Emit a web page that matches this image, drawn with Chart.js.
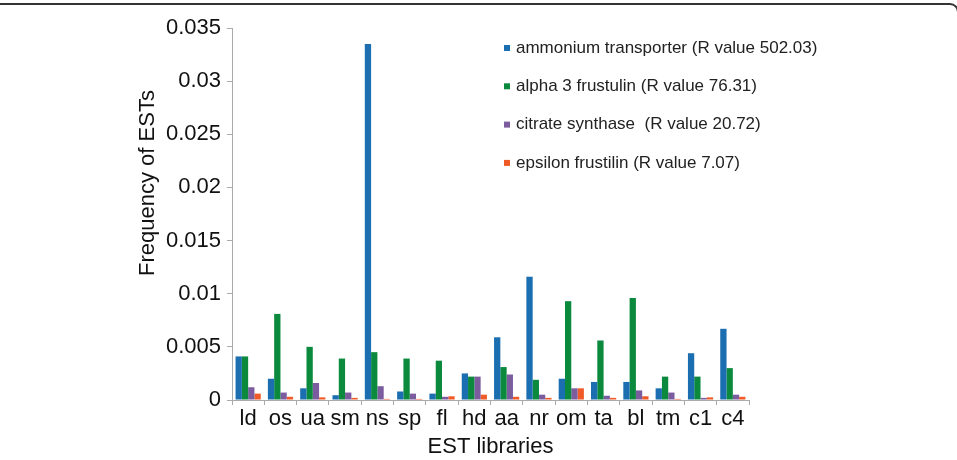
<!DOCTYPE html>
<html lang="en">
<head>
    <meta charset="UTF-8">
    <title>Frequency of ESTs</title>
    <style>
        html, body { margin: 0; padding: 0; background: #fff; }
        #wrap { position: relative; width: 957px; height: 460px; overflow: hidden; }
        #frame {
            position: absolute; top: 3px; left: -20px; width: 979px; height: 520px;
            border: 2px solid #333; border-radius: 9px; box-sizing: border-box;
        }
        #chart { position: absolute; left: 0; top: 0; }
    </style>
</head>
<body>
<div id="wrap">
    <div id="frame"></div>
    <canvas id="chart" width="957" height="460"></canvas>
</div>
<script src="https://cdn.jsdelivr.net/npm/chart.js"></script>
<script>
    // EST libraries (x categories)
    const libraries = ["ld", "os", "ua", "sm", "ns", "sp", "fl", "hd", "aa", "nr", "om", "ta", "bl", "tm", "c1", "c4"];

    // frequency of ESTs per library
    const ammonium = [0.0041, 0.0020, 0.0011, 0.00045, 0.0335, 0.0008, 0.0006, 0.0025, 0.0059, 0.0116, 0.0020, 0.0017, 0.0017, 0.0011, 0.0044, 0.0067];
    const alpha3 = [0.0041, 0.0081, 0.0050, 0.0039, 0.0045, 0.0039, 0.0037, 0.0022, 0.0031, 0.0019, 0.0093, 0.0056, 0.0096, 0.0022, 0.0022, 0.0030];
    const citrate = [0.0012, 0.0007, 0.0016, 0.0007, 0.0013, 0.0006, 0.0003, 0.0022, 0.0024, 0.0005, 0.0011, 0.0004, 0.0009, 0.0007, 0.0002, 0.0005];
    const epsilon = [0.0006, 0.0003, 0.00025, 0.0002, 0.0001, 0.0001, 0.00035, 0.0005, 0.0003, 0.0002, 0.0011, 0.0002, 0.00035, 0.0001, 0.00025, 0.0003];

    const seriesNames = [
        "ammonium transporter (R value 502.03)",
        "alpha 3 frustulin (R value 76.31)",
        "citrate synthase  (R value 20.72)",
        "epsilon frustilin (R value 7.07)"
    ];
    const yTicks = [0, 0.005, 0.01, 0.015, 0.02, 0.025, 0.03, 0.035];
    const yTitle = "Frequency of ESTs";

    const colors = ["#1b6eaf", "#0b8a3e", "#7b5c9f", "#ef5a26"];
    const FONT = "'Liberation Sans', Arial, sans-serif";

    // legend inside the plot (top right) and the y title, which sits above centre in the original
    const extras = {
        id: "extras",
        afterDraw(chart) {
            const ctx = chart.ctx;
            const area = chart.chartArea;
            ctx.save();
            ctx.font = "17px " + FONT;
            ctx.textBaseline = "middle";
            chart.data.datasets.forEach((ds, i) => {
                const y = area.top + 20 + i * 38.3;
                const x = area.left + 272;
                ctx.fillStyle = ds.backgroundColor;
                ctx.fillRect(x, y - 3, 6, 6);
                ctx.fillStyle = "#222";
                ctx.fillText(ds.label, x + 12, y);
            });
            ctx.translate(148, 183);
            ctx.rotate(-Math.PI / 2);
            ctx.font = "22px " + FONT;
            ctx.textAlign = "center";
            ctx.fillStyle = "#111";
            ctx.fillText(yTitle, 0, 0);
            ctx.restore();
        }
    };

    const data = [ammonium, alpha3, citrate, epsilon];

    new Chart(document.getElementById("chart").getContext("2d"), {
        type: "bar",
        data: {
            labels: libraries,
            datasets: data.map((vals, i) => ({
                label: seriesNames[i],
                data: vals,
                backgroundColor: colors[i],
                borderWidth: 0,
                categoryPercentage: 0.78,
                barPercentage: 1.0
            }))
        },
        options: {
            responsive: false,
            animation: false,
            devicePixelRatio: 1,
            layout: { padding: { left: 136, right: 208, top: 28, bottom: 0 } },
            plugins: {
                legend: { display: false },
                tooltip: { enabled: false }
            },
            scales: {
                x: {
                    grid: { display: true, drawOnChartArea: false, drawTicks: true, tickLength: 5, color: "#aaa" },
                    border: { color: "#aaa" },
                    ticks: { color: "#111", font: { family: FONT, size: 22 }, padding: 1, maxRotation: 0, autoSkip: false },
                    title: { display: true, text: "EST libraries", color: "#111", font: { family: FONT, size: 22 }, padding: { top: 0, bottom: 0 } },
                    afterFit(scale) { scale.height = 60; }
                },
                y: {
                    min: 0,
                    max: 0.035,
                    grid: { display: true, drawOnChartArea: false, drawTicks: true, tickLength: 5, color: "#aaa" },
                    border: { color: "#aaa" },
                    afterBuildTicks(scale) { scale.ticks = yTicks.map(v => ({ value: v })); },
                    ticks: {
                        color: "#111",
                        font: { family: FONT, size: 22 },
                        padding: 6,
                        callback: v => String(+v.toFixed(3))
                    },
                    afterFit(scale) { scale.width = 96; }
                }
            }
        },
        plugins: [extras]
    });
</script>
</body>
</html>
